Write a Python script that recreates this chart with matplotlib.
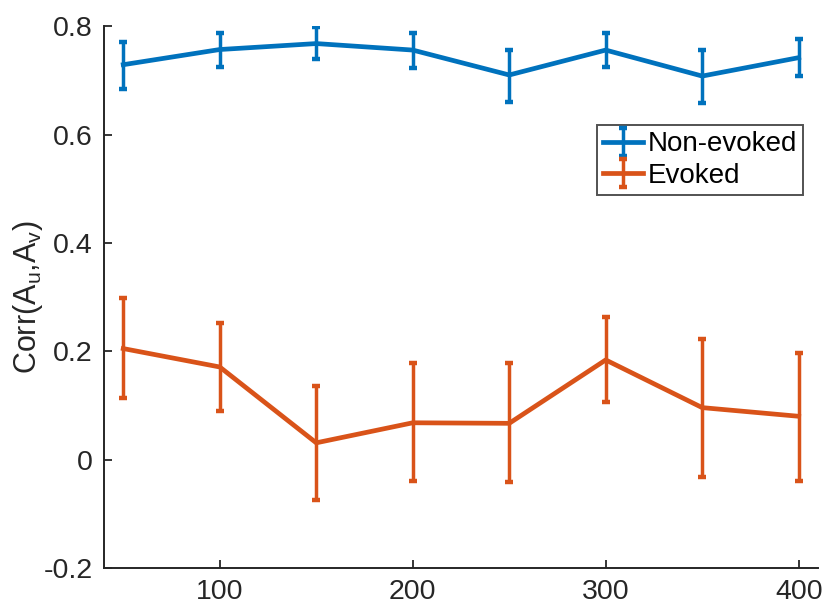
import matplotlib
matplotlib.use('Agg')
import matplotlib.pyplot as plt
import numpy as np

# ------------ data ---------------

x_vals = [50, 100, 150, 200, 250, 300, 350, 400]

non_evoked = [0.729, 0.757, 0.768, 0.756, 0.710, 0.756, 0.708, 0.742]
non_evoked_lo = [0.685, 0.724, 0.739, 0.722, 0.660, 0.724, 0.659, 0.708]
non_evoked_hi = [0.770, 0.787, 0.798, 0.788, 0.756, 0.787, 0.756, 0.776]

evoked = [0.205, 0.171, 0.031, 0.068, 0.067, 0.184, 0.096, 0.080]
evoked_lo = [0.113, 0.090, -0.075, -0.040, -0.042, 0.106, -0.032, -0.040]
evoked_hi = [0.299, 0.253, 0.135, 0.178, 0.178, 0.263, 0.222, 0.197]

x_ticks = [100, 200, 300, 400]
y_ticks = [-0.2, 0, 0.2, 0.4, 0.6, 0.8]
y_tick_labels = ['-0.2', '0', '0.2', '0.4', '0.6', '0.8']

# ------------ style ---------------

plt.rcParams['font.family'] = ['Liberation Sans', 'DejaVu Sans']
plt.rcParams['mathtext.fontset'] = 'custom'
plt.rcParams['mathtext.rm'] = 'Liberation Sans'
plt.rcParams['mathtext.it'] = 'Liberation Sans:italic'

BLUE = '#0072BD'
ORANGE = '#D95319'
DARK = '#262626'

fig = plt.figure(figsize=(8.25, 6.1), dpi=100)
ax = fig.add_axes([0.126, 0.0689, 0.8655, 0.8881])


def draw_series(y, lo, hi, color, label):
    y = np.array(y)
    err = [y - np.array(lo), np.array(hi) - y]
    ax.errorbar(x_vals, y, yerr=err, color=color, linewidth=3.4,
                elinewidth=2.5, capsize=2.6, capthick=3.2, label=label)


draw_series(non_evoked, non_evoked_lo, non_evoked_hi, BLUE, 'Non-evoked')
draw_series(evoked, evoked_lo, evoked_hi, ORANGE, 'Evoked')

ax.set_xlim(40, 410)
ax.set_ylim(-0.2, 0.8)
ax.set_xticks(x_ticks)
ax.set_yticks(y_ticks)
ax.set_yticklabels(y_tick_labels)

for side in ['top', 'right']:
    ax.spines[side].set_visible(False)
for side in ['left', 'bottom']:
    ax.spines[side].set_color(DARK)
    ax.spines[side].set_linewidth(1.4)

ax.tick_params(direction='in', length=6, width=1.3, colors=DARK,
               labelsize=20.5, pad=8)

ax.set_ylabel(r'Corr(A$_\mathrm{u}$,A$_\mathrm{v}$)', fontsize=22,
              color=DARK)
ax.yaxis.set_label_coords(-0.082, 0.5)

leg = ax.legend(loc='upper right', bbox_to_anchor=(0.979, 0.817),
                borderaxespad=0, fontsize=20, frameon=True, fancybox=False,
                handlelength=1.45, handletextpad=0.15, labelspacing=0.2,
                borderpad=0.22)
leg.get_frame().set_edgecolor(DARK)
leg.get_frame().set_linewidth(1.4)

fig.savefig('out.png', dpi=100)
